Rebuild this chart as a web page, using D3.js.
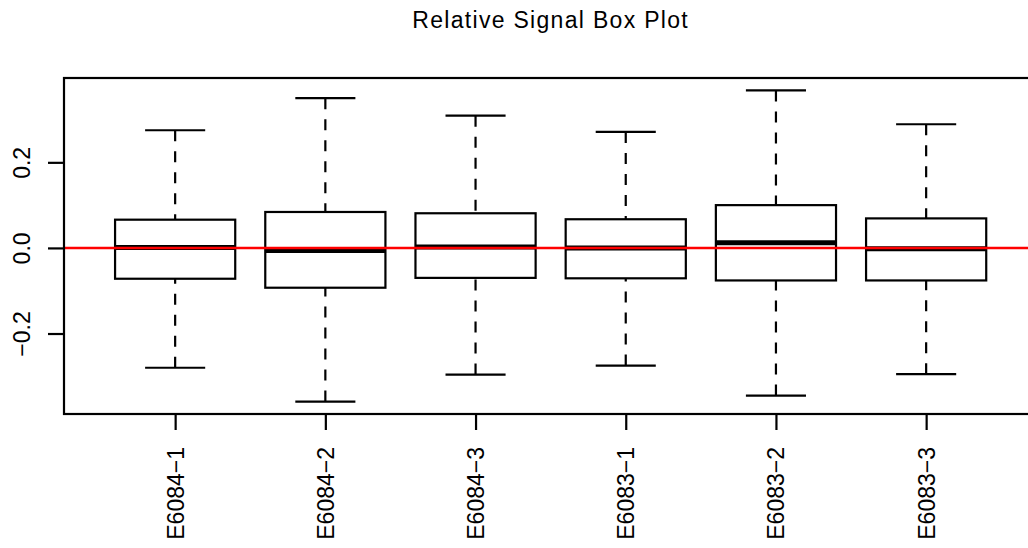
<!DOCTYPE html>
<html>
<head>
<meta charset="utf-8">
<script src="https://cdn.jsdelivr.net/npm/d3@7"></script>
<style>
  body { margin: 0; background: #ffffff; }
  text { font-family: "Liberation Sans", Arial, sans-serif; fill: #000; }
</style>
</head>
<body>
<div id="chart"></div>
<script>
// sample names and box statistics
const samples = ['E6084−1', 'E6084−2', 'E6084−3', 'E6083−1', 'E6083−2', 'E6083−3'];
const whiskerLow = [-0.280, -0.359, -0.296, -0.275, -0.345, -0.295];
const q1 = [-0.072, -0.093, -0.070, -0.071, -0.076, -0.076];
const median = [0.001, -0.006, 0.002, 0.000, 0.012, -0.002];
const q3 = [0.066, 0.084, 0.081, 0.067, 0.100, 0.069];
const whiskerHigh = [0.275, 0.350, 0.309, 0.271, 0.368, 0.289];
const yTicks = [-0.2, 0.0, 0.2];
const title = 'Relative Signal Box Plot';

const width = 1028;
const height = 548;
const plotLeft = 64;
const plotTop = 78;
const plotBottom = 414;
const unit = 150.2;

const boxes = samples.map((name, i) => ({
  name: name,
  pos: i + 1,
  lo: whiskerLow[i],
  q1: q1[i],
  med: median[i],
  q3: q3[i],
  hi: whiskerHigh[i]
}));

const svg = d3.select('#chart')
  .append('svg')
  .attr('width', width)
  .attr('height', height);

// R style: x from 0.5 to n + 0.5, y from data range, both padded by 4%
const xlo = 0.5 - 0.04 * samples.length;
const xhi = samples.length + 0.5 + 0.04 * samples.length;
const x = d3.scaleLinear()
  .domain([xlo, xhi])
  .range([plotLeft, plotLeft + (xhi - xlo) * unit]);

const ymin = d3.min(whiskerLow);
const ymax = d3.max(whiskerHigh);
const pad = (ymax - ymin) * 0.04;
const y = d3.scaleLinear()
  .domain([ymin - pad, ymax + pad])
  .range([plotBottom, plotTop]);

// boxes
const g = svg.selectAll('g.box')
  .data(boxes)
  .enter()
  .append('g')
  .attr('class', 'box');

const boxW = x(1.4) - x(1);
const stapleW = x(1.2) - x(1);

g.append('line')
  .attr('x1', d => x(d.pos)).attr('x2', d => x(d.pos))
  .attr('y1', d => y(d.hi)).attr('y2', d => y(d.q3))
  .attr('stroke', '#000').attr('stroke-width', 2.2)
  .attr('stroke-dasharray', '11,10');

g.append('line')
  .attr('x1', d => x(d.pos)).attr('x2', d => x(d.pos))
  .attr('y1', d => y(d.lo)).attr('y2', d => y(d.q1))
  .attr('stroke', '#000').attr('stroke-width', 2.2)
  .attr('stroke-dasharray', '11,10');

g.selectAll('line.staple')
  .data(d => [d.lo, d.hi].map(v => ({ pos: d.pos, v: v })))
  .enter()
  .append('line')
  .attr('class', 'staple')
  .attr('x1', d => x(d.pos) - stapleW).attr('x2', d => x(d.pos) + stapleW)
  .attr('y1', d => y(d.v)).attr('y2', d => y(d.v))
  .attr('stroke', '#000').attr('stroke-width', 2.2);

g.append('rect')
  .attr('x', d => x(d.pos) - boxW)
  .attr('y', d => y(d.q3))
  .attr('width', boxW * 2)
  .attr('height', d => y(d.q1) - y(d.q3))
  .attr('fill', '#fff')
  .attr('stroke', '#000').attr('stroke-width', 2.2);

g.append('line')
  .attr('x1', d => x(d.pos) - boxW).attr('x2', d => x(d.pos) + boxW)
  .attr('y1', d => y(d.med)).attr('y2', d => y(d.med))
  .attr('stroke', '#000').attr('stroke-width', 5);

// reference line at zero
svg.append('line')
  .attr('x1', x(xlo)).attr('x2', x(xhi))
  .attr('y1', y(0)).attr('y2', y(0))
  .attr('stroke', '#ff0000').attr('stroke-width', 2.5);

// frame
svg.append('rect')
  .attr('x', x(xlo)).attr('y', plotTop)
  .attr('width', x(xhi) - x(xlo)).attr('height', plotBottom - plotTop)
  .attr('fill', 'none')
  .attr('stroke', '#000').attr('stroke-width', 2.2);

// y axis
const yAxis = svg.append('g')
  .attr('transform', `translate(${plotLeft},0)`)
  .call(d3.axisLeft(y).tickValues(yTicks).tickSize(16).tickFormat(d => d3.format('.1f')(d).replace('-', '−')));
yAxis.select('.domain').remove();
yAxis.selectAll('.tick line').attr('stroke', '#000').attr('stroke-width', 2.2);
yAxis.selectAll('.tick text')
  .attr('x', null).attr('dy', null)
  .attr('transform', `translate(${22 - plotLeft},0) rotate(-90)`)
  .attr('text-anchor', 'middle')
  .attr('dominant-baseline', 'central')
  .style('font-size', '23px')
  .style('font-family', '"Liberation Sans", Arial, sans-serif');

// x axis
const xAxis = svg.append('g')
  .attr('transform', `translate(0,${plotBottom})`)
  .call(d3.axisBottom(x).tickValues(boxes.map(d => d.pos)).tickSize(16).tickFormat((d, i) => samples[i]));
xAxis.select('.domain').remove();
xAxis.selectAll('.tick line').attr('stroke', '#000').attr('stroke-width', 2.2);
xAxis.selectAll('.tick text')
  .attr('y', null).attr('dy', null)
  .attr('transform', 'translate(0,33) rotate(-90)')
  .attr('text-anchor', 'end')
  .attr('dominant-baseline', 'central')
  .style('font-size', '23px')
  .style('font-family', '"Liberation Sans", Arial, sans-serif');

// title
svg.append('text')
  .attr('x', (x(xlo) + x(xhi)) / 2)
  .attr('y', 28)
  .attr('text-anchor', 'middle')
  .style('font-size', '23px')
  .style('letter-spacing', '1.3px')
  .text(title);
</script>
</body>
</html>
